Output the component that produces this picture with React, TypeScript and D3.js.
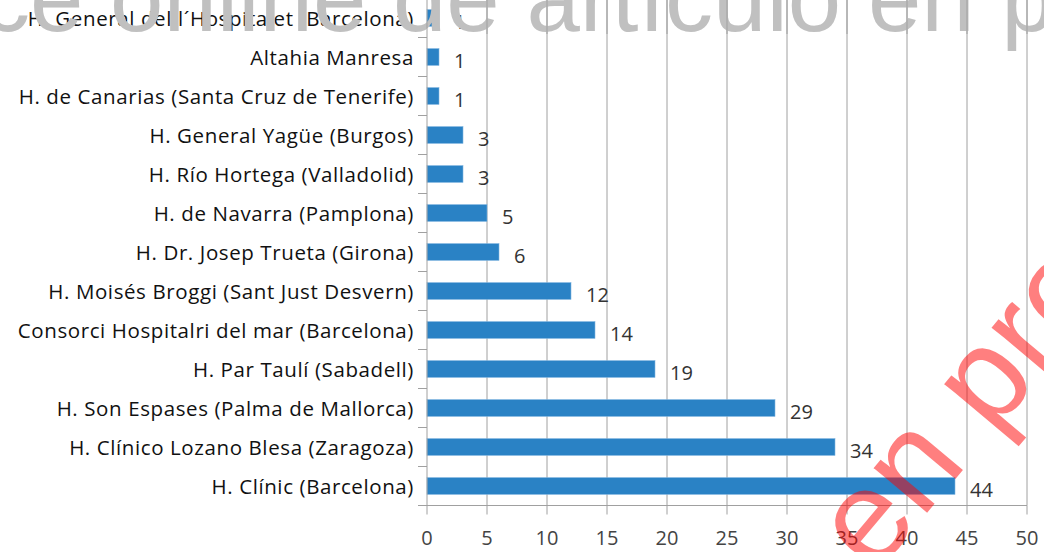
import React, { useEffect, useRef } from "react";
import * as d3 from "d3";

const hospitals = [
  "H. General del l´Hospitalet (Barcelona)",
  "Altahia Manresa",
  "H. de Canarias (Santa Cruz de Tenerife)",
  "H. General Yagüe (Burgos)",
  "H. Río Hortega (Valladolid)",
  "H. de Navarra (Pamplona)",
  "H. Dr. Josep Trueta (Girona)",
  "H. Moisés Broggi (Sant Just Desvern)",
  "Consorci Hospitalri del mar (Barcelona)",
  "H. Par Taulí (Sabadell)",
  "H. Son Espases (Palma de Mallorca)",
  "H. Clínico Lozano Blesa (Zaragoza)",
  "H. Clínic (Barcelona)",
];
const counts = [1, 1, 1, 3, 3, 5, 6, 12, 14, 19, 29, 34, 44];
const xTicks = [0, 5, 10, 15, 20, 25, 30, 35, 40, 45, 50];

const greyMark = "ce online de artículo en prensa";
const redMark = "en prensa";

export default function App() {
  const ref = useRef<SVGSVGElement>(null);

  useEffect(() => {
    document.body.style.margin = "0";
    const width = 1044;
    const height = 552;
    const margin = { top: -1.5, left: 427, right: 17, bottom: 46.5 };

    const svg = d3.select(ref.current);
    svg.selectAll("*").remove();

    const x = d3.scaleLinear().domain([0, 50]).range([margin.left, width - margin.right]);
    const y = d3.scaleBand().domain(hospitals).range([margin.top, height - margin.bottom]);
    const barH = y.bandwidth() * 0.43;
    const yBottom = height - margin.bottom;

    // gridlines
    svg.append("g")
      .selectAll("line")
      .data(xTicks.slice(1))
      .join("line")
      .attr("x1", d => x(d)).attr("x2", d => x(d))
      .attr("y1", 0).attr("y2", yBottom)
      .attr("stroke", "#a0a0a0");

    // bars
    svg.append("g")
      .selectAll("rect")
      .data(counts)
      .join("rect")
      .attr("x", x(0))
      .attr("y", (d, i) => y(hospitals[i])! + (y.bandwidth() - barH) / 2)
      .attr("width", d => x(d) - x(0))
      .attr("height", barH)
      .attr("fill", "#2a82c5")
      .attr("stroke", "#7fb4e0")
      .attr("stroke-width", 0.6);

    // value labels
    svg.append("g")
      .selectAll("text")
      .data(counts)
      .join("text")
      .attr("x", d => x(d) + 15)
      .attr("y", (d, i) => y(hospitals[i])! + y.bandwidth() / 2 + 3)
      .attr("dominant-baseline", "central")
      .attr("font-family", "'Open Sans', sans-serif")
      .attr("font-size", 20)
      .attr("fill", "#333")
      .text(d => d);

    // category labels
    svg.append("g")
      .selectAll("text")
      .data(hospitals)
      .join("text")
      .attr("x", 414)
      .attr("y", d => y(d)! + y.bandwidth() / 2)
      .attr("text-anchor", "end")
      .attr("dominant-baseline", "central")
      .attr("font-family", "'Open Sans', sans-serif")
      .attr("font-size", 20.5)
      .attr("letter-spacing", 0.6)
      .attr("fill", "#111")
      .text(d => d);

    // grey watermark
    svg.append("text")
      .attr("x", -18)
      .attr("y", 31)
      .attr("font-family", "'Liberation Sans', Arial, sans-serif")
      .attr("font-size", 96)
      .attr("fill", "#c0c0c0")
      .text(greyMark);

    // gridlines again over the watermark, top only
    svg.append("g")
      .selectAll("line")
      .data(xTicks.slice(1))
      .join("line")
      .attr("x1", d => x(d)).attr("x2", d => x(d))
      .attr("y1", 0).attr("y2", 34)
      .attr("stroke", "#a0a0a0");

    // left axis
    const yAxis = svg.append("g");
    yAxis.append("line")
      .attr("x1", x(0)).attr("x2", x(0))
      .attr("y1", 0).attr("y2", yBottom)
      .attr("stroke", "#a0a0a0");
    const bounds = hospitals.map(h => y(h)!).concat([yBottom]).filter(v => v > 0);
    yAxis.selectAll("line.tick")
      .data(bounds)
      .join("line")
      .attr("class", "tick")
      .attr("x1", x(0) - 9).attr("x2", x(0))
      .attr("y1", d => d).attr("y2", d => d)
      .attr("stroke", "#a0a0a0");

    // bottom axis
    const xAxis = svg.append("g");
    xAxis.append("line")
      .attr("x1", x(0) - 9).attr("x2", x(50))
      .attr("y1", yBottom).attr("y2", yBottom)
      .attr("stroke", "#a0a0a0");
    xAxis.selectAll("line.tick")
      .data(xTicks)
      .join("line")
      .attr("class", "tick")
      .attr("x1", d => x(d)).attr("x2", d => x(d))
      .attr("y1", yBottom).attr("y2", yBottom + 9)
      .attr("stroke", "#a0a0a0");
    xAxis.selectAll("text")
      .data(xTicks)
      .join("text")
      .attr("x", d => x(d))
      .attr("y", 537)
      .attr("text-anchor", "middle")
      .attr("dominant-baseline", "central")
      .attr("font-family", "'Open Sans', sans-serif")
      .attr("font-size", 20)
      .attr("fill", "#444")
      .text(d => d);

    // red watermark
    svg.append("text")
      .attr("transform", "translate(874,576) rotate(-50)")
      .attr("font-family", "'Liberation Sans', Arial, sans-serif")
      .attr("font-size", 132)
      .attr("fill", "red")
      .attr("fill-opacity", 0.5)
      .text(redMark);
  }, []);

  return <svg ref={ref} width={1044} height={552} style={{ display: "block", background: "#fff" }} />;
}
